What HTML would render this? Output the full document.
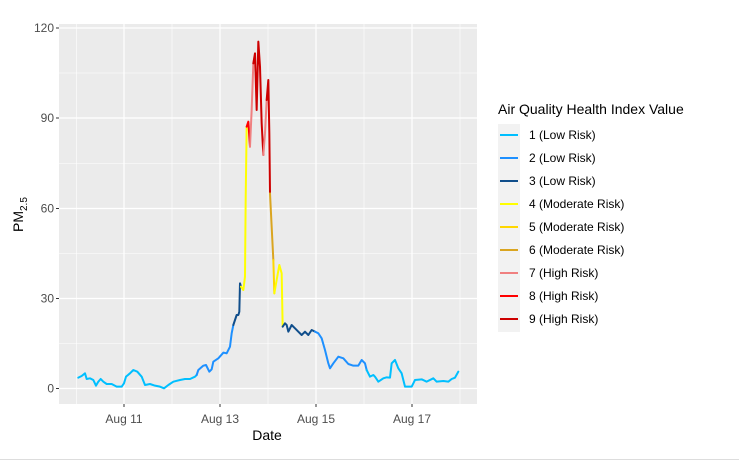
<!DOCTYPE html>
<html><head><meta charset="utf-8"><style>
html,body{margin:0;padding:0;background:#fff;}
body{width:739px;height:461px;overflow:hidden;font-family:"Liberation Sans",Arial,sans-serif;}
</style></head><body>
<svg width="739" height="461" viewBox="0 0 739 461" xmlns="http://www.w3.org/2000/svg" font-family="Liberation Sans, Arial, sans-serif">
<rect x="59" y="24" width="418" height="380" fill="#EBEBEB"/>
<g stroke="#fff" stroke-width="0.6">
<line x1="59" x2="477" y1="343.5" y2="343.5"/><line x1="59" x2="477" y1="253.5" y2="253.5"/><line x1="59" x2="477" y1="163.5" y2="163.5"/><line x1="59" x2="477" y1="73" y2="73"/>
<line x1="76.5" x2="76.5" y1="24" y2="404"/><line x1="172" x2="172" y1="24" y2="404"/><line x1="268" x2="268" y1="24" y2="404"/><line x1="364" x2="364" y1="24" y2="404"/><line x1="460" x2="460" y1="24" y2="404"/>
</g>
<g stroke="#fff" stroke-width="1.2">
<line x1="59" x2="477" y1="388.5" y2="388.5"/><line x1="59" x2="477" y1="298.5" y2="298.5"/><line x1="59" x2="477" y1="208.5" y2="208.5"/><line x1="59" x2="477" y1="118" y2="118"/><line x1="59" x2="477" y1="28" y2="28"/>
<line x1="124" x2="124" y1="24" y2="404"/><line x1="220" x2="220" y1="24" y2="404"/><line x1="316" x2="316" y1="24" y2="404"/><line x1="412" x2="412" y1="24" y2="404"/>
</g>
<g stroke="#333" stroke-width="1">
<line x1="56" x2="59" y1="388.5" y2="388.5"/><line x1="56" x2="59" y1="298.5" y2="298.5"/><line x1="56" x2="59" y1="208.5" y2="208.5"/><line x1="56" x2="59" y1="118" y2="118"/><line x1="56" x2="59" y1="28" y2="28"/>
<line x1="124" x2="124" y1="404" y2="407"/><line x1="220" x2="220" y1="404" y2="407"/><line x1="316" x2="316" y1="404" y2="407"/><line x1="412" x2="412" y1="404" y2="407"/>
</g>
<g font-size="12" fill="#4D4D4D" text-anchor="end">
<text x="54" y="392.5">0</text><text x="54" y="302.5">30</text><text x="54" y="212.5">60</text><text x="54" y="122">90</text><text x="54" y="32">120</text>
</g>
<g font-size="12" fill="#4D4D4D" text-anchor="middle">
<text x="124" y="423">Aug 11</text><text x="220" y="423">Aug 13</text><text x="316" y="423">Aug 15</text><text x="412" y="423">Aug 17</text>
</g>
<text x="267" y="440" font-size="14" text-anchor="middle" fill="#000">Date</text>
<text transform="translate(23,232) rotate(-90)" font-size="14" fill="#000">PM<tspan font-size="10" dy="4">2.5</tspan></text>
<g transform="scale(0.33333)" fill="none" stroke-width="6" stroke-linejoin="round" stroke-linecap="round">
<polyline stroke="#00BFFF" points="235,1133 245,1128 255,1120 260,1137 270,1135 280,1140 288,1157 295,1145 302,1137 310,1145 320,1152 335,1152 350,1160 365,1160 372,1150 378,1130 390,1120 400,1110 412,1115 425,1130 435,1155 450,1152 465,1157 480,1160 492,1165 505,1155 520,1145 540,1140 555,1137 570,1137 585,1130 590,1125"/>
<polyline stroke="#1E90FF" points="590,1125 595,1110 610,1097 618,1095 628,1115 635,1108 640,1085 655,1075 670,1058 680,1060 690,1040 695,1000 700,975"/>
<polyline stroke="#104E8B" points="700,975 710,945 715,945 718,935 720,850 723,860"/>
<polyline stroke="#FFFF00" points="723,860 730,870 735,830 737,600 740,380"/>
<polyline stroke="#FF0000" points="740,380 745,365 750,440"/>
<polyline stroke="#F08080" points="750,440 755,330 760,190"/>
<polyline stroke="#CD0000" points="760,190 765,160 770,330 775,125 780,200 785,370 790,465"/>
<polyline stroke="#F08080" points="790,465 795,400 800,300"/>
<polyline stroke="#CD0000" points="800,300 805,240 808,400 810,580"/>
<polyline stroke="#DAA520" points="810,580 815,680 820,780"/>
<polyline stroke="#FFD700" points="820,780 823,880"/>
<polyline stroke="#FFFF00" points="823,880 830,840 838,795 845,820 848,980"/>
<polyline stroke="#104E8B" points="848,980 855,970 860,975 865,995 875,975 885,985 895,995 905,1005 915,995 925,1005 935,990 945,995"/>
<polyline stroke="#1E90FF" points="945,995 955,1000 965,1015 975,1050 985,1090 990,1105 1000,1090 1015,1070 1030,1075 1045,1092 1060,1097 1075,1097 1085,1080 1095,1090 1100,1110"/>
<polyline stroke="#00BFFF" points="1100,1110 1110,1130 1120,1125 1125,1130 1135,1145 1150,1135 1160,1132 1170,1133 1175,1090 1185,1080 1195,1105 1205,1120 1215,1160 1225,1160 1235,1160 1245,1140 1265,1138 1280,1145 1300,1135 1310,1145 1330,1143 1345,1145 1355,1137 1365,1133 1375,1115"/>
</g>
<text x="498" y="114" font-size="14" fill="#000">Air Quality Health Index Value</text>
<rect x="498" y="124" width="22" height="208" fill="#F2F2F2"/>
<g stroke-width="2">
<line x1="500" x2="518" y1="135" y2="135" stroke="#00BFFF"/>
<line x1="500" x2="518" y1="158" y2="158" stroke="#1E90FF"/>
<line x1="500" x2="518" y1="181" y2="181" stroke="#104E8B"/>
<line x1="500" x2="518" y1="204" y2="204" stroke="#FFFF00"/>
<line x1="500" x2="518" y1="227" y2="227" stroke="#FFD700"/>
<line x1="500" x2="518" y1="250" y2="250" stroke="#DAA520"/>
<line x1="500" x2="518" y1="273" y2="273" stroke="#F08080"/>
<line x1="500" x2="518" y1="296" y2="296" stroke="#FF0000"/>
<line x1="500" x2="518" y1="319" y2="319" stroke="#CD0000"/>
</g>
<g font-size="12" fill="#000">
<text x="529" y="139">1 (Low Risk)</text>
<text x="529" y="162">2 (Low Risk)</text>
<text x="529" y="185">3 (Low Risk)</text>
<text x="529" y="208">4 (Moderate Risk)</text>
<text x="529" y="231">5 (Moderate Risk)</text>
<text x="529" y="254">6 (Moderate Risk)</text>
<text x="529" y="277">7 (High Risk)</text>
<text x="529" y="300">8 (High Risk)</text>
<text x="529" y="323">9 (High Risk)</text>
</g>
<line x1="0" x2="739" y1="459.5" y2="459.5" stroke="#DDD" stroke-width="1"/>
</svg>
</body></html>
